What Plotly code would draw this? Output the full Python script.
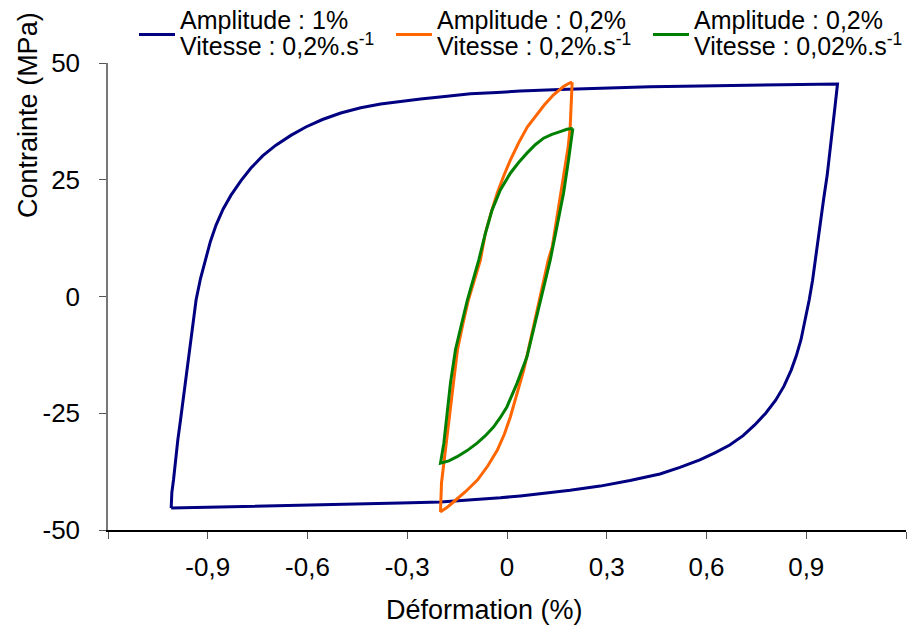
import plotly.graph_objects as go

# ---- Data ----
# Amplitude 1 %, rate 0.2 %/s  (blue) : loading branch then unloading branch
blue_x = [-1.01, -1.008, -1.003, -0.997, -0.99, -0.982, -0.974, -0.965, -0.956, -0.946,
          -0.935, -0.922, -0.908, -0.892, -0.875, -0.854, -0.83, -0.80, -0.77, -0.735,
          -0.695, -0.65, -0.605, -0.555, -0.5, -0.44, -0.38, -0.32, -0.26, -0.18,
          -0.11, -0.03, 0.04, 0.16, 0.28, 0.43, 0.58, 0.73, 0.88, 0.97, 0.994,
          0.987, 0.981, 0.972, 0.963, 0.952, 0.940, 0.928, 0.919, 0.909, 0.897,
          0.884, 0.870, 0.855, 0.833, 0.808, 0.778, 0.745, 0.710, 0.670, 0.625,
          0.580, 0.520, 0.460, 0.370, 0.280, 0.190, 0.100, 0.040, -0.020, -0.110,
          -0.200, -0.320, -0.440, -0.560, -0.680, -0.800, -0.920, -1.010]
blue_y = [-45.3, -42.0, -39.3, -35.0, -30.7, -26.5, -22.2, -17.0, -11.5, -6.0,
          -0.7, 3.8, 7.8, 11.8, 15.3, 18.7, 21.7, 24.8, 27.5, 30.1,
          32.4, 34.5, 36.3, 37.9, 39.3, 40.4, 41.2, 41.8, 42.3, 42.9,
          43.4, 43.7, 44.0, 44.3, 44.6, 44.9, 45.1, 45.3, 45.5, 45.6, 45.5,
          41.0, 37.0, 31.4, 26.0, 20.7, 14.0, 7.8, 3.5, -0.7, -5.2,
          -9.3, -12.7, -15.7, -19.2, -22.2, -25.0, -27.5, -29.8, -31.8, -33.5,
          -35.0, -36.6, -38.0, -39.4, -40.6, -41.5, -42.3, -42.7, -43.1, -43.6,
          -44.0, -44.2, -44.4, -44.7, -44.9, -45.1, -45.3, -45.3]

# Amplitude 0.2 %, rate 0.2 %/s  (orange)
orange_x = [0.196, 0.185, 0.169, 0.140, 0.112, 0.087, 0.061, 0.035, 0.010, -0.010,
            -0.029, -0.048, -0.065, -0.080, -0.098, -0.116, -0.133, -0.149,
            -0.161, -0.173, -0.185, -0.197, -0.200,
            -0.181, -0.161, -0.125, -0.089, -0.058, -0.029, -0.008, 0.010, 0.034,
            0.050, 0.064, 0.081, 0.097, 0.111, 0.124, 0.136, 0.154, 0.165, 0.175,
            0.184, 0.190, 0.194, 0.196]
orange_y = [45.9, 45.6, 44.9, 43.2, 41.0, 38.8, 36.3, 32.9, 29.2, 25.8,
            22.2, 17.9, 13.6, 7.8, 3.6, -0.7, -6.0, -11.4,
            -18.5, -25.8, -32.8, -39.9, -46.1,
            -45.2, -44.0, -41.8, -39.3, -36.3, -32.9, -29.5, -25.8, -20.0,
            -15.8, -11.5, -6.1, -0.7, 3.6, 7.8, 10.6, 18.5, 23.0, 27.7,
            32.0, 36.3, 41.0, 45.9]

# Amplitude 0.2 %, rate 0.02 %/s  (green)
green_x = [0.198, 0.180, 0.160, 0.135, 0.110, 0.085, 0.060, 0.035, 0.010, -0.020,
           -0.045, -0.065, -0.085, -0.102, -0.119, -0.137, -0.155,
           -0.170, -0.180, -0.190, -0.200,
           -0.175, -0.150, -0.120, -0.090, -0.065, -0.040, -0.020, 0.000, 0.030,
           0.060, 0.080, 0.100, 0.130, 0.150, 0.170, 0.185, 0.193, 0.198]
green_y = [36.0, 35.8, 35.3, 34.7, 33.9, 32.5, 30.7, 28.7, 26.4, 22.8,
           18.5, 13.5, 7.8, 3.6, -0.7, -6.0, -11.4,
           -18.5, -25.7, -31.4, -35.7,
           -35.2, -34.3, -33.0, -31.4, -29.8, -27.9, -25.9, -23.6, -18.6,
           -12.9, -7.0, -0.7, 7.8, 14.9, 22.1, 29.2, 33.0, 36.0]

series_names = ["Amplitude : 1%", "Amplitude : 0,2%", "Amplitude : 0,2%"]
series_rates = ["Vitesse : 0,2%.s<sup>-1</sup>", "Vitesse : 0,2%.s<sup>-1</sup>",
                "Vitesse : 0,02%.s<sup>-1</sup>"]
series_colors = ["#000080", "#FF6600", "#008000"]

x_tickvals = [-0.9, -0.6, -0.3, 0, 0.3, 0.6, 0.9]
x_ticktext = ["-0,9", "-0,6", "-0,3", "0", "0,3", "0,6", "0,9"]
y_tickvals = [-50, -25, 0, 25, 50]
y_ticktext = ["-50", "-25", "0", "25", "50"]

FONT = "Liberation Sans, Arial, sans-serif"
LEG = "<span style='font-size:25px'>{}</span><br><span style='font-size:25px'>{}</span>"

fig = go.Figure()
for xs, ys, name, rate, col in zip([blue_x, orange_x, green_x], [blue_y, orange_y, green_y],
                                   series_names, series_rates, series_colors):
    fig.add_trace(go.Scatter(x=xs, y=ys, mode="lines", name=LEG.format(name, rate),
                             line=dict(color=col, width=3)))

fig.update_layout(
    width=907, height=630,
    margin=dict(l=108, r=1, t=63, b=100, autoexpand=False),
    paper_bgcolor="white", plot_bgcolor="white",
    font=dict(family=FONT, size=26, color="black"),
    showlegend=True,
    legend=dict(orientation="h", xref="container", yref="container",
                x=134 / 907, xanchor="left", y=0.9968, yanchor="top",
                font=dict(family=FONT, size=20, color="black"),
                entrywidth=206, entrywidthmode="pixels",
                bgcolor="rgba(0,0,0,0)", itemwidth=36, tracegroupgap=0),
    xaxis=dict(range=[-1.2, 1.2], tickmode="array", tickvals=x_tickvals, ticktext=x_ticktext,
               showgrid=False, zeroline=False, showline=True, linecolor="black", linewidth=1.5,
               ticks="outside", ticklen=7, tickcolor="#555555", tickwidth=1,
               minor=dict(tickmode="linear", tick0=-1.2, dtick=0.3, ticks="outside",
                          ticklen=7, tickcolor="#555555", tickwidth=1, showgrid=False),
               ticklabelstandoff=6, tickfont=dict(size=26), automargin=False),
    yaxis=dict(range=[-50, 50], tickmode="array", tickvals=y_tickvals, ticktext=y_ticktext,
               showgrid=False, zeroline=False, showline=True, linecolor="#777777", linewidth=1.5,
               ticks="outside", ticklen=7, tickcolor="#555555", tickwidth=1,
               ticklabelstandoff=14, tickfont=dict(size=26), automargin=False),
    annotations=[
        dict(text="Déformation (%)", xref="paper", yref="paper", x=0.4724, y=-0.1713,
             xanchor="center", yanchor="middle", showarrow=False, font=dict(size=27)),
        dict(text="Contrainte (MPa)", xref="paper", yref="paper", x=-0.1003, y=0.8887,
             xanchor="center", yanchor="middle", textangle=-90, showarrow=False,
             font=dict(size=27)),
    ],
)

fig.write_html("out.html", config={"displayModeBar": False},
               post_script="document.body.style.margin='0px';")
